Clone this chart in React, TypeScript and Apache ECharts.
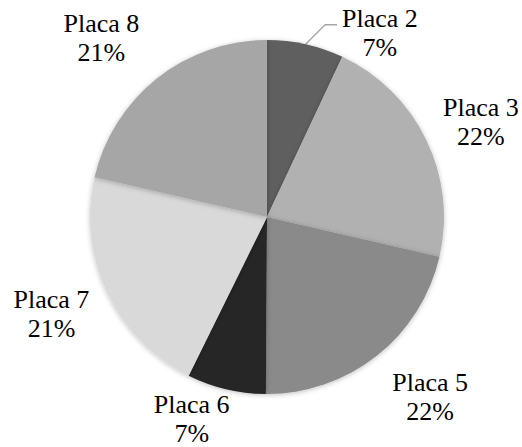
import React, { useEffect, useRef } from 'react';
import * as echarts from 'echarts';

const categories = ['Placa 2', 'Placa 3', 'Placa 5', 'Placa 6', 'Placa 7', 'Placa 8'];
const values = [7.0, 21.6, 21.5, 7.2, 21.3, 21.4];

const colors = ['#5f5f5f', '#b1b1b1', '#8a8a8a', '#252525', '#d9d9d9', '#a6a6a6'];
// label placement per slice
const labelLineLength = [20, 5, 10, 10, 5, 10];
const labelLineLength2 = [27, 7.3, 4.3, -10.7, 8.2, 6.3];
const labelPadding = [
  [16, 0, 0, 0],
  [0, 0, 31, 0],
  [66, 0, 0, 0],
  [40, 0, 0, 0],
  [38, 0, 0, 0],
  [0, 0, 66, 0],
];
const showLeader = [true, false, false, false, false, false];

const FONT = 'Liberation Serif';

export default function App() {
  const ref = useRef<HTMLDivElement>(null);
  useEffect(() => {
    if (!ref.current) return;
    const chart = echarts.init(ref.current, undefined, { renderer: 'svg' });
    chart.setOption({
      animation: false,
      backgroundColor: '#ffffff',
      textStyle: { fontFamily: FONT },
      series: [
        {
          type: 'pie',
          center: [267, 217],
          radius: 177,
          startAngle: 90,
          clockwise: true,
          avoidLabelOverlap: false,
          emphasis: { disabled: true },
          itemStyle: {
            shadowBlur: 5,
            shadowOffsetY: 1,
            shadowColor: 'rgba(0,0,0,0.25)',
          },
          label: {
            show: true,
            position: 'outside',
            alignTo: 'none',
            distanceToLabelLine: 5,
            color: '#000',
            fontFamily: FONT,
            fontWeight: 'normal',
            fontSize: 26,
            lineHeight: 29,
            formatter: (p: any) => `{a|${p.name}}\n{a|${Math.round(p.percent)}%}`,
            rich: {
              a: {
                align: 'center',
                color: '#000',
                fontFamily: FONT,
                fontWeight: 'normal',
                fontSize: 26,
                lineHeight: 29,
              },
            },
          },
          labelLine: {
            show: true,
            smooth: false,
            lineStyle: { color: '#a6a6a6', width: 1.3 },
          },
          labelLayout: (params: any) => {
            const pts = params.labelLinePoints;
            if (!showLeader[params.dataIndex] || !pts || pts.length < 3) return {};
            const p0 = pts[0];
            const p2 = pts[2];
            const rise = p0[1] - p2[1];
            return {
              labelLinePoints: [p0, [p0[0] + rise, p2[1]], p2],
            };
          },
          data: categories.map((name, i) => ({
            name,
            value: values[i],
            itemStyle: { color: colors[i] },
            label: { padding: labelPadding[i] },
            labelLine: {
              show: showLeader[i],
              length: labelLineLength[i],
              length2: labelLineLength2[i],
            },
          })),
        },
      ],
    });
    return () => chart.dispose();
  }, []);
  return (
    <div
      ref={ref}
      style={{ position: 'absolute', left: 0, top: 0, width: 522, height: 447 }}
    />
  );
}
